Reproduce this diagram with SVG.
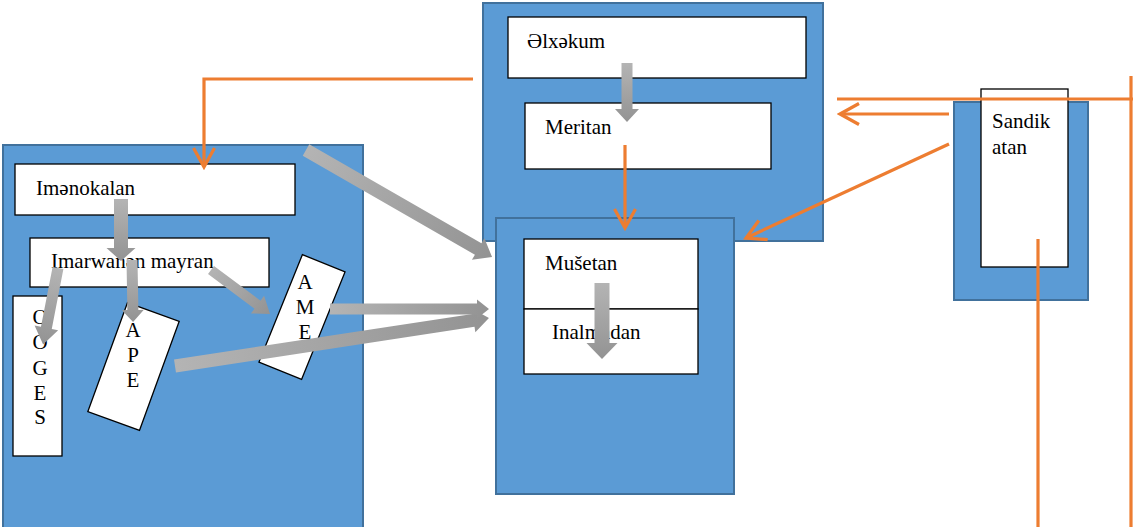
<svg xmlns="http://www.w3.org/2000/svg" width="1133" height="527" viewBox="0 0 1133 527">
<style>
.grp{fill:#5b9bd5;stroke:#41719c;stroke-width:2}
.nd{fill:#fff;stroke:#000;stroke-width:1.3}
.t{font-family:"Liberation Serif","Times New Roman",serif;font-size:21px;fill:#000}
.l{font-family:"Liberation Serif","Times New Roman",serif;font-size:21px;fill:#000;text-anchor:middle}
.ga{fill:url(#gg)}
.oa{fill:none;stroke:#ed7d31;stroke-width:3.2}
</style>
<defs>
<linearGradient id="gg" x1="0" y1="0" x2="1" y2="0">
<stop offset="0" stop-color="#b4b4b4"/>
<stop offset="1" stop-color="#939393"/>
</linearGradient>
<marker id="oh" markerUnits="userSpaceOnUse" markerWidth="24" markerHeight="26" viewBox="0 0 24 26" refX="21" refY="13" orient="auto">
<path d="M2,2.5 L21,13 L2,23.5" fill="none" stroke="#ed7d31" stroke-width="3.2"/>
</marker>
</defs>

<g id="group-left">
<rect class="grp" x="3" y="145" width="360" height="392"/>
</g>
<g id="imenokalan">
<rect class="nd" x="15" y="164" width="280" height="51"/>
<text class="t" x="36" y="195">Imənokalan</text>
</g>
<g id="imarwanen">
<rect class="nd" x="30" y="238" width="239" height="49"/>
<text class="t" x="51" y="268">Imarwanən mayran</text>
</g>
<g id="oges">
<rect class="nd" x="13" y="296" width="49" height="160"/>
<text class="l" x="40" y="324">O</text>
<text class="l" x="40" y="349">O</text>
<text class="l" x="40" y="375">G</text>
<text class="l" x="40" y="400">E</text>
<text class="l" x="40" y="424">S</text>
</g>
<g id="ape">
<rect class="nd" x="-27.5" y="-58" width="55" height="116" transform="translate(133.5,366.5) rotate(20)"/>
<text class="l" x="133" y="337">A</text>
<text class="l" x="133" y="362">P</text>
<text class="l" x="133" y="387">E</text>
</g>
<g id="ame">
<rect class="nd" x="-23" y="-58" width="46" height="116" transform="translate(302,317) rotate(22)"/>
<text class="l" x="305" y="289">A</text>
<text class="l" x="305" y="314">M</text>
<text class="l" x="305" y="339">E</text>
</g>

<g id="group-top">
<rect class="grp" x="483" y="3" width="340" height="238"/>
</g>
<g id="elxekum">
<rect class="nd" x="508" y="17" width="298" height="61"/>
<text class="t" x="527" y="48">Əlxəkum</text>
</g>
<g id="meritan">
<rect class="nd" x="525" y="103" width="246" height="66"/>
<text class="t" x="545" y="134">Meritan</text>
</g>

<g id="group-musetan">
<rect class="grp" x="496" y="218" width="238" height="276"/>
</g>
<g id="musetan">
<rect class="nd" x="524" y="239" width="174" height="70"/>
<text class="t" x="545" y="270">Mušetan</text>
</g>
<g id="inalmadan">
<rect class="nd" x="524" y="309" width="174" height="65"/>
<text class="t" x="552" y="339">Inalmadan</text>
</g>

<g id="group-sandik">
<rect class="grp" x="954" y="102" width="134" height="198"/>
</g>
<g id="sandikatan">
<rect class="nd" x="981" y="89" width="87" height="178"/>
<text class="t" x="992" y="128">Sandik</text>
<text class="t" x="992" y="154">atan</text>
</g>

<g id="connectors">
<path class="ga" transform="translate(121,199) rotate(90)" d="M0,-7 H49 V-14.5 L62,0 L49,14.5 V7 H0Z"/>
<path class="ga" transform="translate(58,268) rotate(101)" d="M0,-5.5 H61 V-12 L78,0 L61,12 V5.5 H0Z"/>
<path class="ga" transform="translate(132,260) rotate(89)" d="M0,-5.5 H50 V-11 L62,0 L50,11 V5.5 H0Z"/>
<path class="ga" transform="translate(211,270) rotate(36.7)" d="M0,-5 H58 V-11 L73.6,0 L58,11 V5 H0Z"/>
<path class="ga" transform="translate(175,366) rotate(-8.7)" d="M0,-6.5 H302 V-12 L317.6,0 L302,12 V6.5 H0Z"/>
<path class="ga" transform="translate(330,309) rotate(0)" d="M0,-5.5 H147 V-9.5 L159,0 L147,9.5 V5.5 H0Z"/>
<path class="ga" transform="translate(306,150) rotate(29.9)" d="M0,-6.5 H198.6 V-12.5 L214.6,0 L198.6,12.5 V6.5 H0Z"/>
<path class="ga" transform="translate(627,63) rotate(90)" d="M0,-5.5 H46 V-12 L59,0 L46,12 V5.5 H0Z"/>
<path class="ga" transform="translate(602,283) rotate(90)" d="M0,-7.5 H60 V-15.5 L76,0 L60,15.5 V7.5 H0Z"/>

<polyline class="oa" points="473,79 204,79 204,167" marker-end="url(#oh)"/>
<line class="oa" x1="625" y1="145" x2="625" y2="228" marker-end="url(#oh)"/>
<line class="oa" x1="949" y1="144" x2="746" y2="238" marker-end="url(#oh)"/>
<line class="oa" x1="949" y1="114" x2="840" y2="114" marker-end="url(#oh)"/>
<line class="oa" x1="837" y1="99" x2="1133" y2="99"/>
<line class="oa" x1="1131" y1="76" x2="1131" y2="527"/>
<line class="oa" x1="1038" y1="239" x2="1038" y2="527"/>
</g>
</svg>
